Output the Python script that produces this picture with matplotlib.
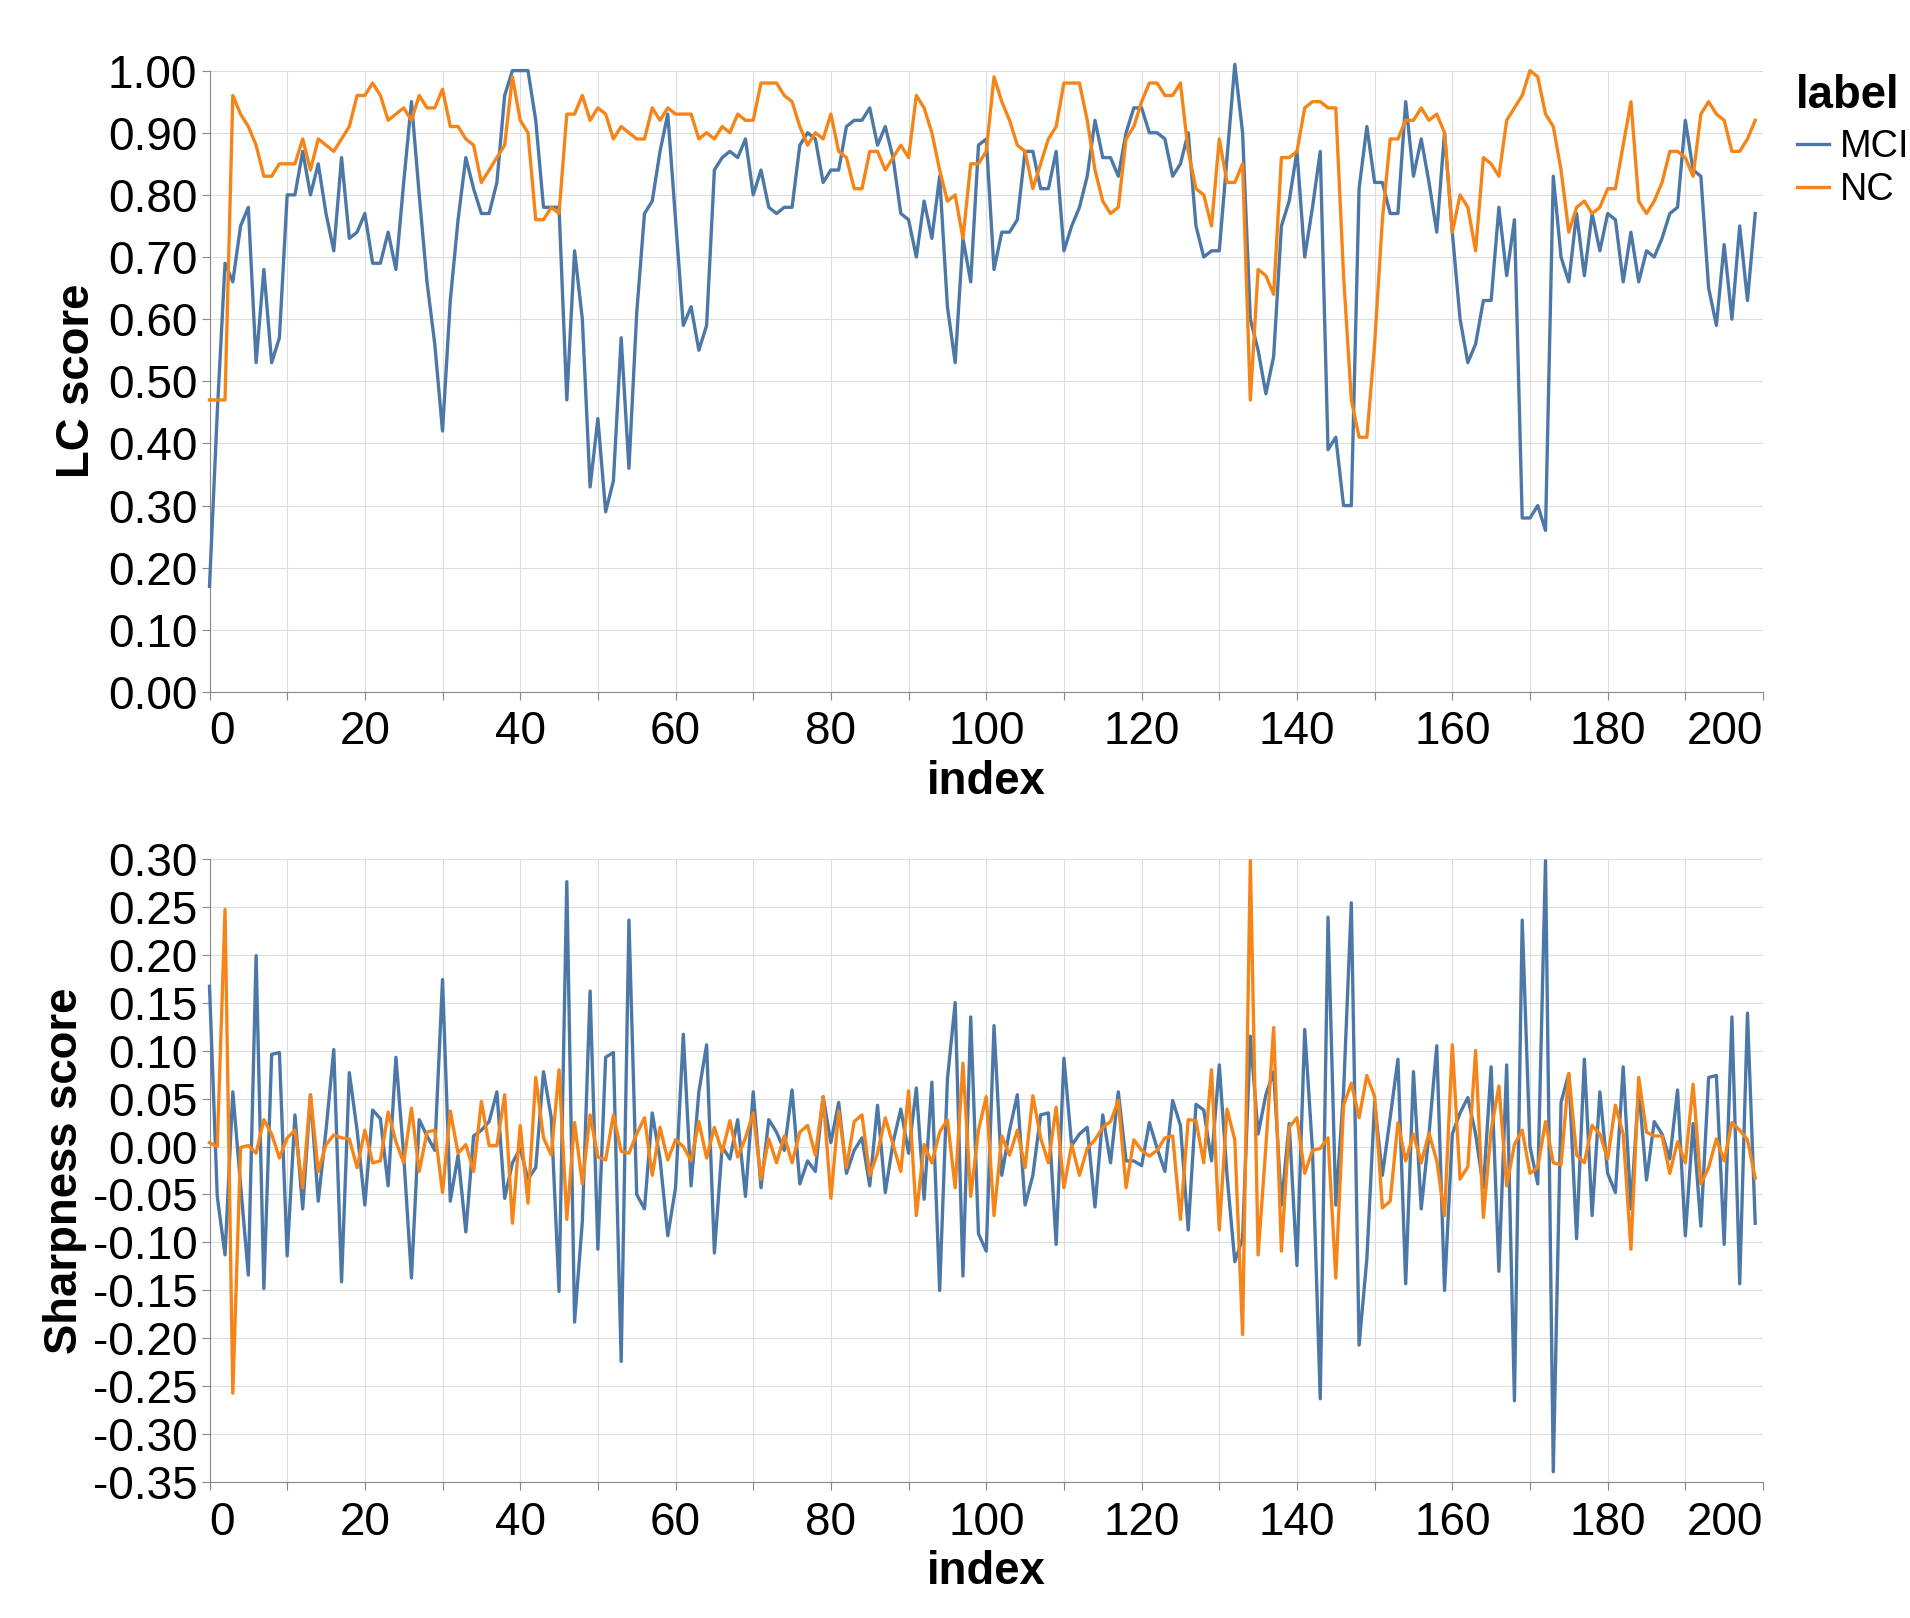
import matplotlib
matplotlib.use("Agg")
import matplotlib.pyplot as plt
from matplotlib.lines import Line2D
from matplotlib.ticker import MultipleLocator, FuncFormatter

plt.rcParams['font.family'] = ['Liberation Sans', 'DejaVu Sans']
plt.rcParams['axes.unicode_minus'] = False

# data
index = list(range(200))

mci_lc = [
    0.17, 0.45, 0.69, 0.66, 0.75, 0.78, 0.53, 0.68, 0.53, 0.57,
    0.80, 0.80, 0.87, 0.80, 0.85, 0.77, 0.71, 0.86, 0.73, 0.74,
    0.77, 0.69, 0.69, 0.74, 0.68, 0.82, 0.95, 0.80, 0.66, 0.56,
    0.42, 0.63, 0.76, 0.86, 0.81, 0.77, 0.77, 0.82, 0.96, 1.00,
    1.00, 1.00, 0.92, 0.78, 0.78, 0.78, 0.47, 0.71, 0.60, 0.33,
    0.44, 0.29, 0.34, 0.57, 0.36, 0.61, 0.77, 0.79, 0.87, 0.93,
    0.76, 0.59, 0.62, 0.55, 0.59, 0.84, 0.86, 0.87, 0.86, 0.89,
    0.80, 0.84, 0.78, 0.77, 0.78, 0.78, 0.88, 0.90, 0.89, 0.82,
    0.84, 0.84, 0.91, 0.92, 0.92, 0.94, 0.88, 0.91, 0.86, 0.77,
    0.76, 0.70, 0.79, 0.73, 0.83, 0.62, 0.53, 0.73, 0.66, 0.88,
    0.89, 0.68, 0.74, 0.74, 0.76, 0.87, 0.87, 0.81, 0.81, 0.87,
    0.71, 0.75, 0.78, 0.83, 0.92, 0.86, 0.86, 0.83, 0.90, 0.94,
    0.94, 0.90, 0.90, 0.89, 0.83, 0.85, 0.90, 0.75, 0.70, 0.71,
    0.71, 0.86, 1.01, 0.90, 0.60, 0.55, 0.48, 0.54, 0.75, 0.79,
    0.87, 0.70, 0.78, 0.87, 0.39, 0.41, 0.30, 0.30, 0.81, 0.91,
    0.82, 0.82, 0.77, 0.77, 0.95, 0.83, 0.89, 0.82, 0.74, 0.90,
    0.74, 0.60, 0.53, 0.56, 0.63, 0.63, 0.78, 0.67, 0.76, 0.28,
    0.28, 0.30, 0.26, 0.83, 0.70, 0.66, 0.77, 0.67, 0.77, 0.71,
    0.77, 0.76, 0.66, 0.74, 0.66, 0.71, 0.70, 0.73, 0.77, 0.78,
    0.92, 0.84, 0.83, 0.65, 0.59, 0.72, 0.60, 0.75, 0.63, 0.77,
]

nc_lc = [
    0.47, 0.47, 0.47, 0.96, 0.93, 0.91, 0.88, 0.83, 0.83, 0.85,
    0.85, 0.85, 0.89, 0.84, 0.89, 0.88, 0.87, 0.89, 0.91, 0.96,
    0.96, 0.98, 0.96, 0.92, 0.93, 0.94, 0.92, 0.96, 0.94, 0.94,
    0.97, 0.91, 0.91, 0.89, 0.88, 0.82, 0.84, 0.86, 0.88, 0.99,
    0.92, 0.90, 0.76, 0.76, 0.78, 0.77, 0.93, 0.93, 0.96, 0.92,
    0.94, 0.93, 0.89, 0.91, 0.90, 0.89, 0.89, 0.94, 0.92, 0.94,
    0.93, 0.93, 0.93, 0.89, 0.90, 0.89, 0.91, 0.90, 0.93, 0.92,
    0.92, 0.98, 0.98, 0.98, 0.96, 0.95, 0.91, 0.88, 0.90, 0.89,
    0.93, 0.87, 0.86, 0.81, 0.81, 0.87, 0.87, 0.84, 0.86, 0.88,
    0.86, 0.96, 0.94, 0.90, 0.84, 0.79, 0.80, 0.73, 0.85, 0.85,
    0.87, 0.99, 0.95, 0.92, 0.88, 0.87, 0.81, 0.85, 0.89, 0.91,
    0.98, 0.98, 0.98, 0.92, 0.84, 0.79, 0.77, 0.78, 0.89, 0.91,
    0.95, 0.98, 0.98, 0.96, 0.96, 0.98, 0.87, 0.81, 0.80, 0.75,
    0.89, 0.82, 0.82, 0.85, 0.47, 0.68, 0.67, 0.64, 0.86, 0.86,
    0.87, 0.94, 0.95, 0.95, 0.94, 0.94, 0.67, 0.47, 0.41, 0.41,
    0.56, 0.76, 0.89, 0.89, 0.92, 0.92, 0.94, 0.92, 0.93, 0.90,
    0.74, 0.80, 0.78, 0.71, 0.86, 0.85, 0.83, 0.92, 0.94, 0.96,
    1.00, 0.99, 0.93, 0.91, 0.84, 0.74, 0.78, 0.79, 0.77, 0.78,
    0.81, 0.81, 0.88, 0.95, 0.79, 0.77, 0.79, 0.82, 0.87, 0.87,
    0.86, 0.83, 0.93, 0.95, 0.93, 0.92, 0.87, 0.87, 0.89, 0.92,
]

mci_sharp = [
    0.167, -0.052, -0.113, 0.057, -0.040, -0.134, 0.199, -0.148, 0.096, 0.098,
    -0.114, 0.033, -0.065, 0.054, -0.057, 0.017, 0.101, -0.141, 0.077, 0.017,
    -0.061, 0.038, 0.029, -0.041, 0.093, -0.009, -0.137, 0.028, 0.011, -0.004,
    0.174, -0.057, -0.009, -0.089, 0.011, 0.017, 0.026, 0.057, -0.054, -0.017,
    -0.002, -0.034, -0.022, 0.078, 0.030, -0.151, 0.276, -0.183, -0.078, 0.162,
    -0.107, 0.093, 0.098, -0.224, 0.236, -0.050, -0.065, 0.035, -0.013, -0.093,
    -0.043, 0.117, -0.041, 0.057, 0.106, -0.111, 0.000, -0.013, 0.028, -0.052,
    0.057, -0.043, 0.028, 0.015, -0.004, 0.059, -0.039, -0.015, -0.026, 0.052,
    0.004, 0.046, -0.028, -0.004, 0.009, -0.041, 0.043, -0.048, 0.004, 0.039,
    -0.007, 0.061, -0.055, 0.067, -0.150, 0.070, 0.150, -0.135, 0.135, -0.091,
    -0.109, 0.126, -0.030, 0.017, 0.054, -0.061, -0.030, 0.033, 0.035, -0.102,
    0.092, 0.001, 0.013, 0.020, -0.063, 0.033, -0.017, 0.057, -0.015, -0.015,
    -0.020, 0.025, -0.002, -0.026, 0.048, 0.022, -0.087, 0.044, 0.038, -0.015,
    0.085, -0.030, -0.120, -0.096, 0.115, 0.013, 0.054, 0.078, -0.061, 0.024,
    -0.124, 0.122, -0.004, -0.263, 0.239, -0.061, 0.057, 0.254, -0.207, -0.117,
    0.046, -0.030, 0.030, 0.091, -0.143, 0.078, -0.065, 0.013, 0.105, -0.150,
    0.013, 0.035, 0.051, 0.013, -0.043, 0.083, -0.130, 0.085, -0.265, 0.236,
    0.000, -0.039, 0.298, -0.339, 0.046, 0.076, -0.096, 0.091, -0.072, 0.057,
    -0.028, -0.048, 0.083, -0.065, 0.061, -0.035, 0.026, 0.013, -0.013, 0.059,
    -0.093, 0.024, -0.083, 0.072, 0.074, -0.102, 0.135, -0.143, 0.139, -0.080,
]

nc_sharp = [
    0.004, 0.000, 0.247, -0.257, -0.001, 0.001, -0.007, 0.028, 0.013, -0.012,
    0.009, 0.017, -0.043, 0.054, -0.026, 0.002, 0.012, 0.009, 0.008, -0.022,
    0.017, -0.017, -0.015, 0.036, 0.005, -0.017, 0.040, -0.026, 0.015, 0.017,
    -0.048, 0.037, -0.007, 0.002, -0.026, 0.047, 0.001, 0.001, 0.054, -0.080,
    0.022, -0.059, 0.072, 0.009, -0.009, 0.080, -0.076, 0.025, -0.039, 0.033,
    -0.011, -0.014, 0.033, -0.005, -0.007, 0.013, 0.030, -0.030, 0.020, -0.014,
    0.007, 0.000, -0.015, 0.026, -0.012, 0.020, -0.006, 0.027, -0.011, 0.009,
    0.035, -0.034, 0.008, -0.017, 0.011, -0.017, 0.015, 0.022, -0.009, 0.052,
    -0.054, 0.037, -0.022, 0.026, 0.033, -0.030, -0.007, 0.030, 0.002, -0.026,
    0.058, -0.072, 0.002, -0.017, 0.015, 0.028, -0.043, 0.087, -0.052, 0.017,
    0.052, -0.072, 0.011, -0.009, 0.017, -0.022, 0.053, 0.009, -0.017, 0.041,
    -0.043, 0.002, -0.030, -0.002, 0.007, 0.020, 0.026, 0.048, -0.043, 0.007,
    -0.004, -0.010, -0.004, 0.009, 0.011, -0.076, 0.028, 0.027, -0.017, 0.080,
    -0.087, 0.039, 0.007, -0.196, 0.298, -0.113, 0.000, 0.124, -0.109, 0.020,
    0.030, -0.028, -0.004, -0.002, 0.009, -0.137, 0.043, 0.066, 0.030, 0.074,
    0.052, -0.064, -0.057, 0.025, -0.015, 0.013, -0.017, 0.014, -0.015, -0.072,
    0.106, -0.034, -0.021, 0.100, -0.074, 0.017, 0.063, -0.041, 0.002, 0.017,
    -0.028, -0.022, 0.026, -0.017, -0.019, 0.076, -0.009, -0.017, 0.022, 0.013,
    -0.013, 0.043, 0.013, -0.107, 0.072, 0.015, 0.011, 0.011, -0.028, 0.005,
    -0.017, 0.065, -0.039, -0.022, 0.008, -0.015, 0.025, 0.017, 0.007, -0.033,
]

labels = ['MCI', 'NC']
colors = ['#4c78a8', '#f58518']

W, H = 1910, 1618
fig = plt.figure(figsize=(W / 100, H / 100), dpi=100)

# axes boxes in pixels: left, top, right, bottom
boxes = [(209.5, 70.6, 1763, 692), (209.5, 858.7, 1763, 1482.3)]
axes = []
for l, t, r, b in boxes:
    axes.append(fig.add_axes([l / W, 1 - b / H, (r - l) / W, (b - t) / H]))
ax_top, ax_bot = axes

tick_fs = 33
title_fs = 32.8


def style_axis(ax, ylabel, ylim, ystep, ylab_x):
    ax.set_xlim(0, 200)
    ax.set_ylim(*ylim)
    ax.xaxis.set_major_locator(MultipleLocator(10))
    ax.xaxis.set_major_formatter(FuncFormatter(lambda v, p: f'{v:.0f}' if round(v) % 20 == 0 else ''))
    ax.yaxis.set_major_locator(MultipleLocator(ystep))
    ax.yaxis.set_major_formatter(FuncFormatter(lambda v, p: f'{v:.2f}'))
    ax.grid(True, color='#dddddd', linewidth=0.8, zorder=0)
    ax.set_axisbelow(True)
    for s in ['top', 'right']:
        ax.spines[s].set_visible(False)
    for s in ['left', 'bottom']:
        ax.spines[s].set_color('#888888')
        ax.spines[s].set_linewidth(0.8)
    ax.tick_params(axis='both', colors='#888888', labelcolor='black', length=5.8, width=0.8,
                   labelsize=tick_fs)
    ax.tick_params(axis='y', pad=3)
    ax.tick_params(axis='x', pad=7.5)
    ax.set_xlabel('index', fontsize=title_fs, fontweight='bold')
    ax.xaxis.label.set_va('center')
    ax.xaxis.set_label_coords(0.5, -90 / ax.bbox.height)
    ax.set_ylabel(ylabel, fontsize=title_fs, fontweight='bold')
    ax.yaxis.label.set_va('center')
    ax.yaxis.set_label_coords(ylab_x, 0.5)


for ax, series, ylabel, ylim, ystep, lx in [
    (ax_top, [mci_lc, nc_lc], 'LC score', (0, 1), 0.1, (77 - 209.5) / 1553.5),
    (ax_bot, [mci_sharp, nc_sharp], 'Sharpness score', (-0.35, 0.30), 0.05, (65 - 209.5) / 1553.5),
]:
    for vals, lab, col in zip(series, labels, colors):
        ax.plot(index, vals, color=col, linewidth=2.4, label=lab, clip_on=False, zorder=3)
    style_axis(ax, ylabel, ylim, ystep, lx)

# legend, placed by hand like vega's
fig.text(1796 / W, 1 - 108.3 / H, 'label', fontsize=title_fs, fontweight='bold',
         ha='left', va='baseline')
for lab, col, ym, yb in zip(labels, colors, [144, 186.7], [157.3, 200]):
    fig.add_artist(Line2D([1797.3 / W, 1829.3 / W], [1 - ym / H, 1 - ym / H],
                          color=col, linewidth=2.4, transform=fig.transFigure))
    fig.text(1840 / W, 1 - yb / H, lab, fontsize=27.3, ha='left', va='baseline')

# first and last x labels sit flush with the axis ends
fig.canvas.draw()
for ax in axes:
    for t in ax.get_xticklabels():
        if t.get_text() == '0':
            t.set_horizontalalignment('left')
        elif t.get_text() == '200':
            t.set_horizontalalignment('right')

fig.savefig('out.png', dpi=100)
